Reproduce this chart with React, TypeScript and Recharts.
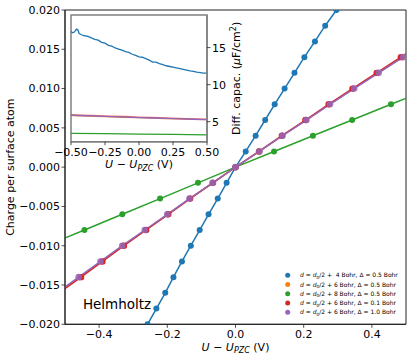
import React from 'react';
import { LineChart, Line, XAxis, YAxis, ReferenceArea, ReferenceDot, Legend, CartesianGrid } from 'recharts';

const FONT = '"DejaVu Sans", "Liberation Sans", sans-serif';

// ---------- main panel data (charge per surface atom vs U - U_PZC) ----------
const chargeBlue = [-0.020, -0.018, -0.016, -0.014, -0.012, -0.010, -0.008, -0.006, -0.004, -0.002, 0, 0.002, 0.004, 0.006, 0.008, 0.010, 0.012, 0.014, 0.016, 0.018, 0.020];
const uBlue = [-0.258, -0.232, -0.206, -0.182, -0.157, -0.131, -0.105, -0.079, -0.052, -0.026, 0, 0.030, 0.059, 0.087, 0.115, 0.144, 0.173, 0.202, 0.233, 0.263, 0.296];

const chargeMid = [-0.016, -0.014, -0.012, -0.010, -0.008, -0.006, -0.004, -0.002, 0, 0.002, 0.004, 0.006, 0.008, 0.010, 0.012, 0.014, 0.016];
const uOrange = [-0.521, -0.457, -0.393, -0.330, -0.264, -0.199, -0.134, -0.067, 0, 0.070, 0.137, 0.207, 0.275, 0.346, 0.417, 0.489, 0.561];
const uRed = [-0.517, -0.453, -0.390, -0.327, -0.262, -0.197, -0.133, -0.066, 0, 0.069, 0.136, 0.205, 0.273, 0.343, 0.414, 0.485, 0.557];
const uPurple = [-0.525, -0.460, -0.396, -0.332, -0.266, -0.200, -0.135, -0.067, 0, 0.070, 0.138, 0.208, 0.277, 0.348, 0.420, 0.492, 0.565];

const chargeGreen = [-0.010, -0.008, -0.006, -0.004, -0.002, 0, 0.002, 0.004, 0.006, 0.008, 0.010];
const uGreen = [-0.555, -0.443, -0.332, -0.221, -0.110, 0, 0.113, 0.227, 0.342, 0.456, 0.571];

const xTicksMain = [-0.4, -0.2, 0, 0.2, 0.4];
const yTicksMain = [-0.02, -0.015, -0.01, -0.005, 0, 0.005, 0.01, 0.015, 0.02];

// ---------- inset data (differential capacitance) ----------
const insetUBlue = [-0.5, -0.49, -0.475, -0.46, -0.45, -0.44, -0.42, -0.4, -0.375, -0.35, -0.325, -0.3, -0.275, -0.25, -0.225, -0.2, -0.175, -0.15, -0.125, -0.1, -0.075, -0.05, -0.025, 0, 0.025, 0.05, 0.075, 0.1, 0.125, 0.15, 0.175, 0.2, 0.225, 0.25, 0.275, 0.3, 0.325, 0.35, 0.375, 0.4, 0.425, 0.45, 0.475, 0.5];
const insetCBlue = [17.2, 17.0, 17.1, 17.5, 17.4, 16.9, 16.7, 16.6, 16.5, 16.3, 16.1, 16.0, 15.7, 15.6, 15.3, 15.2, 14.95, 14.8, 14.65, 14.45, 14.35, 14.1, 13.95, 13.75, 13.7, 13.5, 13.3, 13.05, 13.05, 12.85, 12.7, 12.55, 12.45, 12.35, 12.25, 12.15, 12.05, 11.95, 11.85, 11.8, 11.7, 11.62, 11.55, 11.55];

const insetUFlat = [-0.5, -0.4, -0.3, -0.2, -0.1, 0, 0.1, 0.2, 0.3, 0.4, 0.5];
const insetCOrange = [5.84, 5.78, 5.72, 5.66, 5.60, 5.54, 5.48, 5.42, 5.37, 5.32, 5.27];
const insetCRed = [5.95, 5.89, 5.82, 5.76, 5.70, 5.63, 5.57, 5.51, 5.45, 5.39, 5.34];
const insetCPurple = [5.86, 5.80, 5.74, 5.68, 5.62, 5.56, 5.50, 5.44, 5.38, 5.33, 5.28];

const insetUGreen = [-0.5, -0.25, 0, 0.25, 0.5];
const insetCGreen = [3.43, 3.38, 3.33, 3.28, 3.23];

const insetXTicks = [-0.5, -0.25, 0, 0.25, 0.5];
const insetYTicks = [5, 10, 15];

// ---------- legend ----------
const legendOffsets = ['4', '6', '8', '6', '6'];
const legendDeltas = ['0.5', '0.5', '0.5', '0.1', '1.0'];
const colors = ['#1f77b4', '#ff7f0e', '#2ca02c', '#d62728', '#9467bd'];

const zip = (us: number[], qs: number[], key: string) => us.map((u, i) => ({ u, [key]: qs[i] }));

const mainBlue = zip(uBlue, chargeBlue, 'q');
const mainOrange = zip(uOrange, chargeMid, 'q');
const mainGreen = zip(uGreen, chargeGreen, 'q');
const mainRed = zip(uRed, chargeMid, 'q');
const mainPurple = zip(uPurple, chargeMid, 'q');

const inBlue = zip(insetUBlue, insetCBlue, 'c');
const inOrange = zip(insetUFlat, insetCOrange, 'c');
const inGreen = zip(insetUGreen, insetCGreen, 'c');
const inRed = zip(insetUFlat, insetCRed, 'c');
const inPurple = zip(insetUFlat, insetCPurple, 'c');

const fmt = (v: number, d: number) => {
  const s = Math.abs(v).toFixed(d);
  return v < -1e-12 ? '\u2212' + s : s;
};

const tickStyle = { fill: '#000', fontSize: 11, fontFamily: FONT };

const UPZC = (sub: number, dy: number) => [
  <tspan key="a" fontStyle="italic">U</tspan>,
  <tspan key="b">{' \u2212 '}</tspan>,
  <tspan key="c" fontStyle="italic">U</tspan>,
  <tspan key="d" fontStyle="italic" fontSize={sub} dy={dy}>PZC</tspan>,
  <tspan key="e" dy={-dy}>{' (V)'}</tspan>,
];

const mainXLabel = (props: any) => {
  const vb = props.viewBox || { x: 65, y: 324.3, width: 341, height: 35.7 };
  return (
    <text x={vb.x + vb.width / 2} y={vb.y + 26.5} textAnchor="middle" fontSize={11} fontFamily={FONT} fill="#000" style={{ whiteSpace: 'pre' }}>
      {UPZC(8, 2.5)}
    </text>
  );
};

const mainYLabel = (props: any) => {
  const vb = props.viewBox || { x: 0, y: 10, width: 65, height: 314.3 };
  const x = vb.x + 14.5;
  const y = vb.y + vb.height / 2;
  return (
    <text x={x} y={y} transform={`rotate(-90, ${x}, ${y})`} textAnchor="middle" fontSize={11} fontFamily={FONT} fill="#000">
      Charge per surface atom
    </text>
  );
};

const insetXLabel = (props: any) => {
  const vb = props.viewBox || { x: 71, y: 141.7, width: 136, height: 30 };
  return (
    <text x={vb.x + vb.width / 2} y={vb.y + 26.5} textAnchor="middle" fontSize={11} fontFamily={FONT} fill="#000" style={{ whiteSpace: 'pre' }}>
      {UPZC(8, 2.5)}
    </text>
  );
};

const insetYLabel = (props: any) => {
  const vb = props.viewBox || { x: 207, y: 15, width: 40, height: 126.7 };
  const x = vb.x + 33;
  const y = vb.y + vb.height / 2;
  return (
    <text x={x} y={y} transform={`rotate(-90, ${x}, ${y})`} textAnchor="middle" fontSize={11} fontFamily={FONT} fill="#000">
      <tspan>Diff. capac. (</tspan>
      <tspan fontStyle="italic">μ</tspan>
      <tspan>F/cm</tspan>
      <tspan fontSize={8} dy={-4}>2</tspan>
      <tspan dy={4}>)</tspan>
    </text>
  );
};

const helmholtzLabel = (props: any) => {
  const vb = props.viewBox || { x: 82.5, y: 309 };
  return (
    <text x={vb.x} y={vb.y} fontSize={13.5} fontFamily={FONT} fill="#000">Helmholtz</text>
  );
};

const LegendBox = () => (
  <svg width={130} height={52} style={{ display: 'block', overflow: 'visible' }}>
    {colors.map((c, i) => {
      const cy = 7.3 + i * 9.25;
      return (
        <g key={i}>
          <circle cx={7.7} cy={cy} r={2.5} fill={c} />
          <text x={20} y={cy + 2.1} fontSize={6} fontFamily={FONT} fill="#000" style={{ whiteSpace: 'pre' }}>
            <tspan fontStyle="italic">d</tspan>
            <tspan>{' = '}</tspan>
            <tspan fontStyle="italic">d</tspan>
            <tspan fontSize={4.3} dy={1.4}>0</tspan>
            <tspan dy={-1.4}>{`/2 + ${i === 0 ? ' ' : ''}${legendOffsets[i]} Bohr, Δ = ${legendDeltas[i]} Bohr`}</tspan>
          </text>
        </g>
      );
    })}
  </svg>
);

export default function App() {
  const dotStyle = (c: string, r: number, op = 1) => ({ r, fill: c, stroke: c, strokeWidth: 0, fillOpacity: op });
  return (
    <div style={{ position: 'absolute', left: 0, top: 0, width: 415, height: 360, background: '#fff', overflow: 'hidden' }}>
      <div style={{ position: 'absolute', left: 0, top: 0 }}>
        <LineChart width={415} height={360} margin={{ top: 10, right: 9, bottom: 0, left: 0 }}>
          <XAxis
            type="number"
            dataKey="u"
            domain={[-0.5, 0.5]}
            allowDataOverflow
            ticks={xTicksMain}
            interval={0}
            tickFormatter={(v: number) => fmt(v, 1)}
            height={35.7}
            tickSize={3.5}
            tickMargin={2.5}
            tick={tickStyle}
            axisLine={{ stroke: '#222', strokeWidth: 1 }}
            tickLine={{ stroke: '#222', strokeWidth: 0.8 }}
            label={mainXLabel}
          />
          <YAxis
            type="number"
            domain={[-0.02, 0.02]}
            allowDataOverflow
            ticks={yTicksMain}
            interval={0}
            tickFormatter={(v: number) => fmt(v, 3)}
            width={65}
            tickSize={3.5}
            tickMargin={1.5}
            tick={tickStyle}
            axisLine={{ stroke: '#222', strokeWidth: 1 }}
            tickLine={{ stroke: '#222', strokeWidth: 0.8 }}
            label={mainYLabel}
          />
          <Line data={mainBlue} dataKey="q" name="blue" stroke={colors[0]} strokeWidth={1.5} dot={dotStyle(colors[0], 3)} activeDot={false} isAnimationActive={false} />
          <Line data={mainOrange} dataKey="q" name="orange" stroke={colors[1]} strokeWidth={1.5} dot={dotStyle(colors[1], 3)} activeDot={false} isAnimationActive={false} />
          <Line data={mainGreen} dataKey="q" name="green" stroke={colors[2]} strokeWidth={1.5} dot={dotStyle(colors[2], 3)} activeDot={false} isAnimationActive={false} />
          <Line data={mainRed} dataKey="q" name="red" stroke={colors[3]} strokeWidth={1.5} dot={dotStyle(colors[3], 3.2)} activeDot={false} isAnimationActive={false} />
          <Line data={mainPurple} dataKey="q" name="purple" stroke={colors[4]} strokeWidth={1.5} dot={dotStyle(colors[4], 3.3, 0.85)} activeDot={false} isAnimationActive={false} />
          <ReferenceArea x1={-0.5} x2={0.5} y1={-0.02} y2={0.02} fill="none" stroke="#222" strokeWidth={1} ifOverflow="visible" />
          <ReferenceDot x={-0.4475} y={-0.0181} r={0} fill="none" stroke="none" ifOverflow="visible" label={helmholtzLabel} />
          <Legend
            layout="horizontal"
            verticalAlign="middle"
            align="center"
            wrapperStyle={{ position: 'absolute', left: 280, top: 268, width: 130, height: 52, lineHeight: 0 }}
            content={() => <LegendBox />}
          />
        </LineChart>
      </div>
      <div style={{ position: 'absolute', left: 0, top: 0, pointerEvents: 'none' }}>
        <LineChart width={415} height={360} margin={{ top: 15, right: 168, bottom: 188.3, left: 71 }}>
          <CartesianGrid horizontal={false} vertical={false} fill="#fff" />
          <XAxis
            type="number"
            dataKey="u"
            domain={[-0.5, 0.5]}
            allowDataOverflow
            ticks={insetXTicks}
            interval={0}
            tickFormatter={(v: number) => fmt(v, 2)}
            height={30}
            tickSize={3.5}
            tickMargin={2.5}
            tick={tickStyle}
            axisLine={{ stroke: '#808080', strokeWidth: 1.5 }}
            tickLine={{ stroke: '#222', strokeWidth: 0.8 }}
            label={insetXLabel}
          />
          <YAxis
            orientation="right"
            type="number"
            domain={[2.3, 19.4]}
            allowDataOverflow
            ticks={insetYTicks}
            interval={0}
            width={40}
            tickSize={3.5}
            tickMargin={1.5}
            tick={tickStyle}
            axisLine={{ stroke: '#808080', strokeWidth: 1.5 }}
            tickLine={{ stroke: '#222', strokeWidth: 0.8 }}
            label={insetYLabel}
          />
          <Line data={inBlue} dataKey="c" stroke={colors[0]} strokeWidth={1.3} dot={false} activeDot={false} isAnimationActive={false} />
          <Line data={inOrange} dataKey="c" stroke={colors[1]} strokeWidth={1.3} dot={false} activeDot={false} isAnimationActive={false} />
          <Line data={inGreen} dataKey="c" stroke={colors[2]} strokeWidth={1.3} dot={false} activeDot={false} isAnimationActive={false} />
          <Line data={inRed} dataKey="c" stroke={colors[3]} strokeWidth={1.3} strokeOpacity={0.6} dot={false} activeDot={false} isAnimationActive={false} />
          <Line data={inPurple} dataKey="c" stroke={colors[4]} strokeWidth={1.3} dot={false} activeDot={false} isAnimationActive={false} />
          <ReferenceArea x1={-0.5} x2={0.5} y1={2.3} y2={19.4} fill="none" stroke="#808080" strokeWidth={1.5} ifOverflow="visible" />
        </LineChart>
      </div>
    </div>
  );
}
